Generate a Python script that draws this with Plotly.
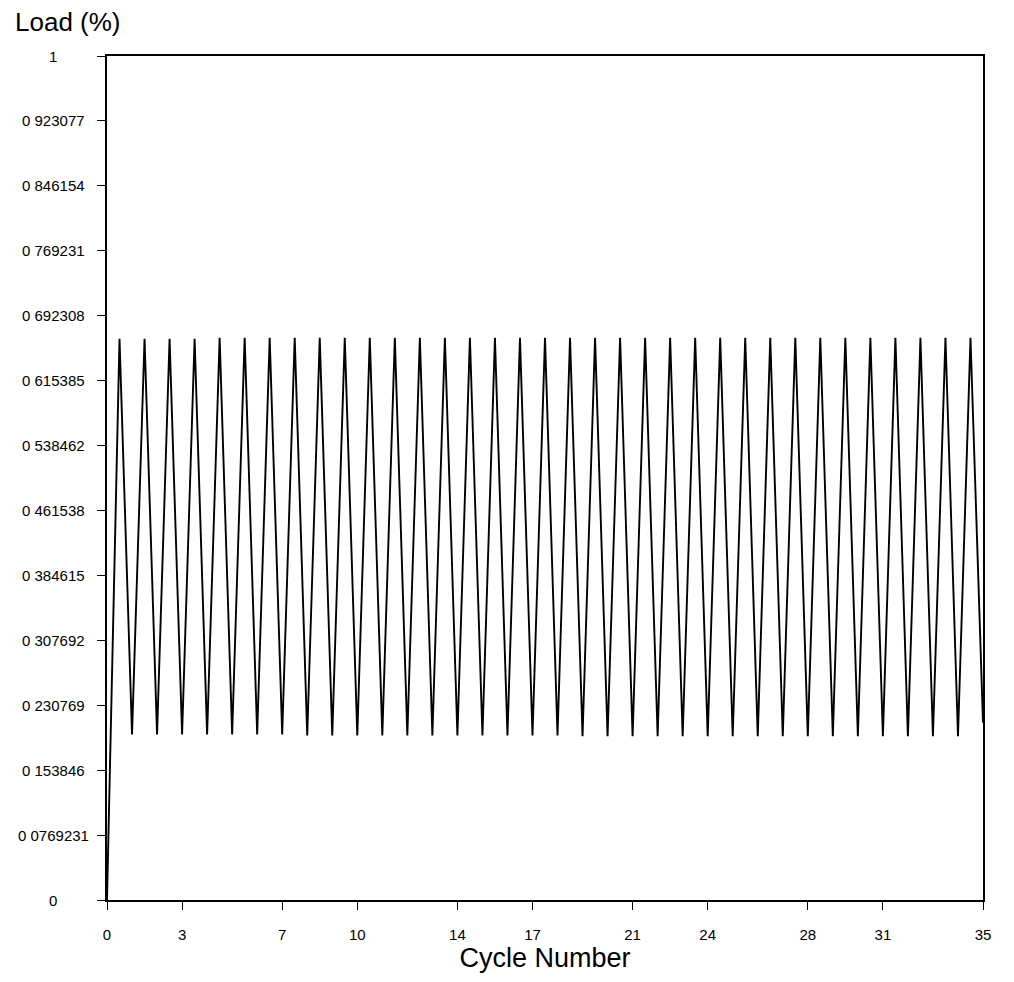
import plotly.graph_objects as go

# ---- data ----
cycle = [0, 0.5, 1, 1.5, 2, 2.5, 3, 3.5, 4, 4.5, 5, 5.5, 6, 6.5, 7, 7.5, 8, 8.5, 9, 9.5,
         10, 10.5, 11, 11.5, 12, 12.5, 13, 13.5, 14, 14.5, 15, 15.5, 16, 16.5, 17, 17.5,
         18, 18.5, 19, 19.5, 20, 20.5, 21, 21.5, 22, 22.5, 23, 23.5, 24, 24.5, 25, 25.5,
         26, 26.5, 27, 27.5, 28, 28.5, 29, 29.5, 30, 30.5, 31, 31.5, 32, 32.5, 33, 33.5,
         34, 34.5, 35]
load = [0.0, 0.665, 0.196, 0.665, 0.196, 0.665, 0.196, 0.665, 0.196, 0.666, 0.196,
        0.666, 0.196, 0.666, 0.196, 0.666, 0.195, 0.666, 0.195, 0.666, 0.195, 0.666,
        0.195, 0.666, 0.195, 0.666, 0.195, 0.666, 0.195, 0.666, 0.195, 0.666, 0.195,
        0.666, 0.195, 0.666, 0.195, 0.666, 0.194, 0.666, 0.194, 0.666, 0.194, 0.666,
        0.194, 0.666, 0.194, 0.666, 0.194, 0.666, 0.194, 0.666, 0.194, 0.666, 0.194,
        0.666, 0.194, 0.666, 0.194, 0.666, 0.194, 0.666, 0.194, 0.666, 0.194, 0.666,
        0.194, 0.666, 0.194, 0.666, 0.21]

x_tick_vals = [0, 3, 7, 10, 14, 17, 21, 24, 28, 31, 35]
x_tick_text = ["0", "3", "7", "10", "14", "17", "21", "24", "28", "31", "35"]

y_tick_vals = [0, 0.0769231, 0.153846, 0.230769, 0.307692, 0.384615, 0.461538,
               0.538462, 0.615385, 0.692308, 0.769231, 0.846154, 0.923077, 1]
y_tick_text = ["0", "0 0769231", "0 153846", "0 230769", "0 307692", "0 384615",
               "0 461538", "0 538462", "0 615385", "0 692308", "0 769231",
               "0 846154", "0 923077", "1"]

FONT = "Liberation Sans, Arial, sans-serif"

fig = go.Figure()
fig.add_trace(go.Scatter(
    x=cycle, y=load, mode="lines",
    line=dict(color="black", width=1.9),
    showlegend=False, hoverinfo="skip",
))

# y tick labels (centered under one another, as in the reference)
annotations = []
for v, t in zip(y_tick_vals, y_tick_text):
    annotations.append(dict(
        x=-0.0616, xref="paper", y=v, yref="y", text=t, showarrow=False,
        xanchor="center", yanchor="middle",
        font=dict(family=FONT, size=15, color="black"),
    ))
annotations.append(dict(
    x=-0.107, xref="paper", y=1.040, yref="paper", text="Load (%)", showarrow=False,
    xanchor="left", yanchor="middle",
    font=dict(family=FONT, size=26, color="black"),
))

fig.update_layout(
    width=1014, height=982,
    margin=dict(l=107, r=31, t=56, b=82),
    paper_bgcolor="white", plot_bgcolor="white",
    font=dict(family=FONT, color="black"),
    annotations=annotations,
    xaxis=dict(
        range=[0, 35], tickmode="array", tickvals=x_tick_vals, ticktext=x_tick_text,
        ticks="outside", ticklen=8, tickwidth=1.2, tickcolor="black",
        ticklabelstandoff=12,
        tickfont=dict(family=FONT, size=15, color="black"),
        showline=True, linecolor="black", linewidth=1.6, mirror=True,
        showgrid=False, zeroline=False,
        title=dict(text="Cycle Number", standoff=6,
                   font=dict(family=FONT, size=27, color="black")),
    ),
    yaxis=dict(
        range=[0, 1], tickmode="array", tickvals=y_tick_vals,
        ticks="outside", ticklen=8, tickwidth=1.2, tickcolor="black",
        showticklabels=False,
        showline=True, linecolor="black", linewidth=1.6, mirror=True,
        showgrid=False, zeroline=False,
    ),
)

fig.write_html("out.html")
